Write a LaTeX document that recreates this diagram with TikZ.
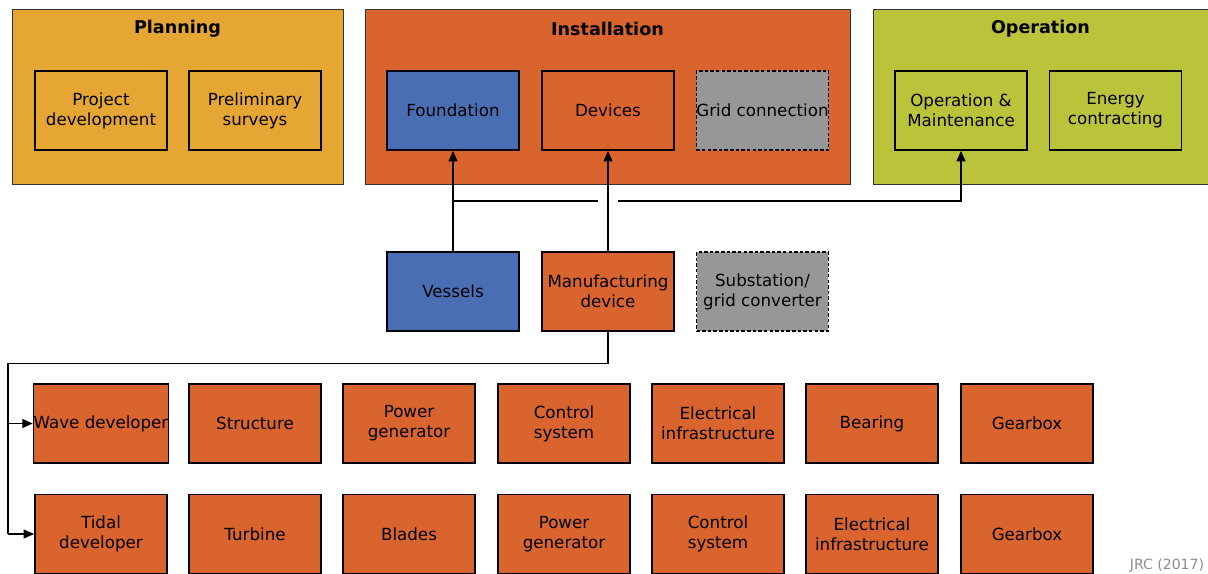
\documentclass[tikz,border=0pt]{standalone}
\usepackage{fontspec}
\setmainfont{DejaVu Sans}
\usetikzlibrary{arrows.meta, positioning, calc}

\definecolor{planC}{HTML}{E6A634}
\definecolor{instC}{HTML}{D9642E}
\definecolor{operC}{HTML}{BAC33A}
\definecolor{vesC}{HTML}{4A6EB4}
\definecolor{gridC}{HTML}{979797}

\begin{document}
\begin{tikzpicture}[x=0.02cm, y=-0.02cm,
  every node/.style={font=\fontsize{9.5}{11.3}\selectfont, align=center},
  group/.style={draw=black!80, line width=0.5pt, inner sep=0pt, minimum height=3.5cm},
  title/.style={font=\fontsize{10}{12}\selectfont\bfseries},
  box/.style={draw=black, line width=0.9pt, inner sep=0pt, minimum width=2.64cm, minimum height=1.58cm},
  gridbox/.style={box, fill=gridC, dash pattern=on 2pt off 1.2pt},
  link/.style={line width=1pt, -{Triangle[length=6pt, width=5pt]}}]
\useasboundingbox (0,0) rectangle (1208,574);
% Phases
\node[group, fill=planC, minimum width=6.62cm] (planning) at (177.5,96.5) {};
\node[group, fill=instC, minimum width=9.7cm] (installation) at (607.5,96.5) {};
\node[group, fill=operC, minimum width=6.9cm] (operation) at (1045.5,96.5) {};
\node[title] at (177.5,28.5) {Planning};
\node[title] at (607.5,28.5) {Installation};
\node[title] at (1040.5,28.5) {Operation};
% Boxes inside the phases
\node[box, fill=planC] (projdev) at (101,110.5) {Project\\development};
\node[box, fill=planC] (surveys) at (255,110.5) {Preliminary\\surveys};
\node[box, fill=vesC] (foundation) at (453,110.5) {Foundation};
\node[box, fill=instC] (devices) at (608,110.5) {Devices};
\node[gridbox] (gridconn) at (762.5,110.5) {Grid connection};
\node[box, fill=operC] (om) at (961,110.5) {Operation \&\\Maintenance};
\node[box, fill=operC] (energy) at (1115.5,110.5) {Energy\\contracting};
% Supply chain
\node[box, fill=vesC] (vessels) at (453,291.5) {Vessels};
\node[box, fill=instC] (manuf) at (608,291.5) {Manufacturing\\device};
\node[gridbox] (substation) at (762.5,291.5) {Substation/\\grid converter};
% Wave row
\node[box, fill=instC] (wave) at (101,423.5) {Wave developer};
\node[box, fill=instC] (wstruct) at (255,423.5) {Structure};
\node[box, fill=instC] (wpower) at (409,423.5) {Power\\generator};
\node[box, fill=instC] (wcontrol) at (564,423.5) {Control\\system};
\node[box, fill=instC] (welec) at (718,423.5) {Electrical\\infrastructure};
\node[box, fill=instC] (wbearing) at (872,423.5) {Bearing};
\node[box, fill=instC] (wgear) at (1027,423.5) {Gearbox};
% Tidal row
\node[box, fill=instC] (tidal) at (101,534) {Tidal\\developer};
\node[box, fill=instC] (tturbine) at (255,534) {Turbine};
\node[box, fill=instC] (tblades) at (409,534) {Blades};
\node[box, fill=instC] (tpower) at (564,534) {Power\\generator};
\node[box, fill=instC] (tcontrol) at (718,534) {Control\\system};
\node[box, fill=instC] (telec) at (872,534) {Electrical\\infrastructure};
\node[box, fill=instC] (tgear) at (1027,534) {Gearbox};
% Connectors
\coordinate (hopL) at (598,201);
\coordinate (hopR) at (618,201);
\coordinate (down) at (8,363.5);
\draw[link] (vessels) -- (foundation);
\draw[link] (manuf) -- (devices);
\draw[line width=1pt] (vessels.north |- hopL) -- (hopL);
\draw[link] (hopR) -| (om.south);
\draw[line width=1pt] (manuf.south) |- (down) -- (down |- tidal);
\draw[link] (down |- wave) -- (wave.west);
\draw[link] (down |- tidal) -- (tidal.west);
% Source
\node[text=black!45, font=\fontsize{8}{9}\selectfont] (source) at (1167,566) {JRC (2017)};
\end{tikzpicture}
\end{document}
